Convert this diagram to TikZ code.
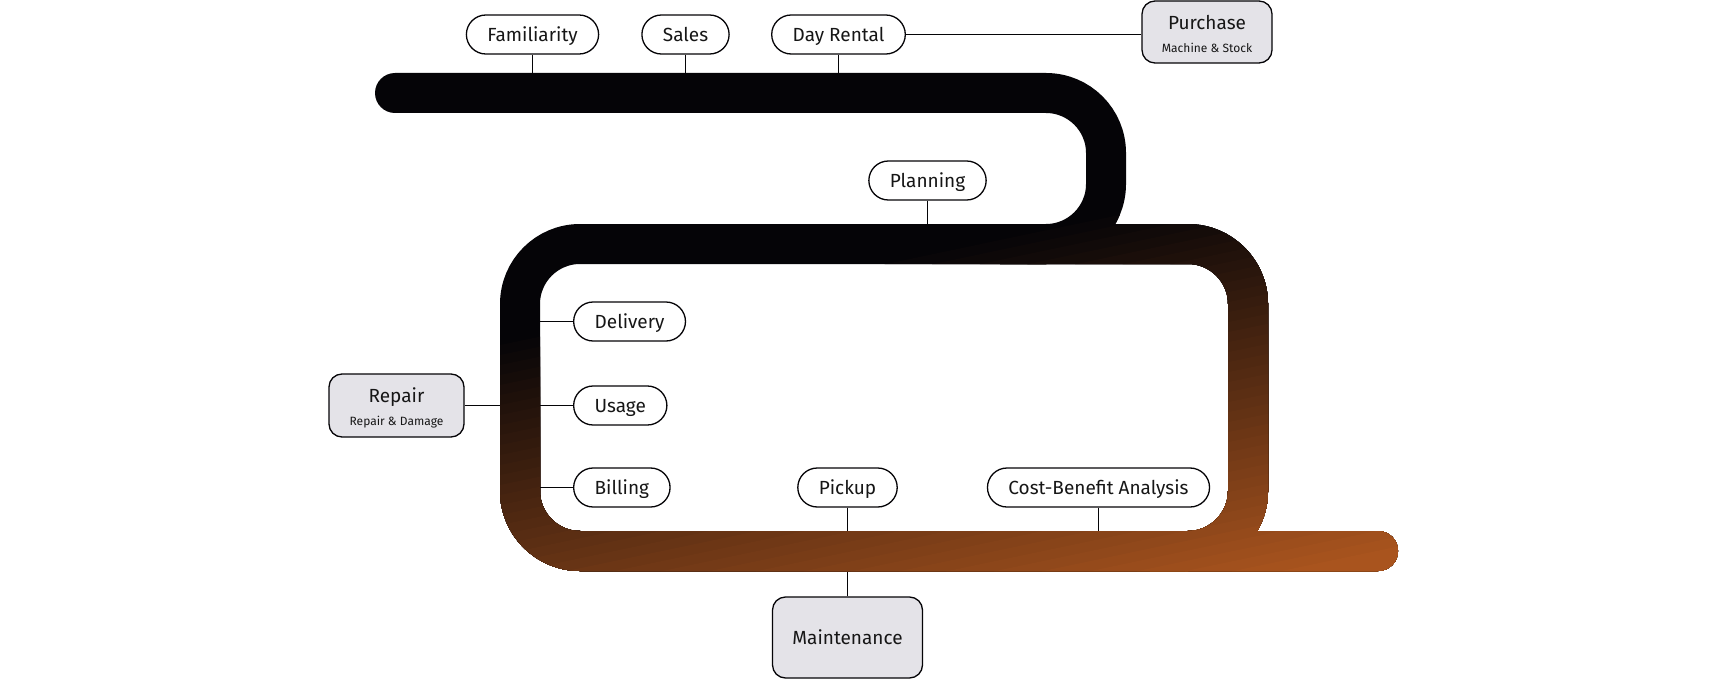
\documentclass[tikz,border=0pt]{standalone}
\usepackage{fontspec}
\setmainfont{Fira Sans}
\usetikzlibrary{positioning}
\definecolor{Ink}{HTML}{050407}
\definecolor{Rust}{HTML}{A9541E}
\definecolor{Card}{HTML}{E4E3E8}
\definecolor{Text}{HTML}{161616}
\newcommand{\sub}[1]{{\fontsize{12}{14}\selectfont #1}}
\newcommand{\pipe}[1]{%
  \draw[pipe,draw=#1] (395,93) -- (1106,93) -- (1106,244) -- (520,244) -- (520,551) -- (1378,551);
  \draw[pipe,draw=#1] (1000,244) -- (1248,244) -- (1248,551) -- (1150,551);
}
\tikzset{
  pipe/.style={line width=40pt,rounded corners=60pt,line cap=round},
  tag/.style={draw=Ink,line width=1.3pt,fill=white,text=Text,rounded corners=19.5pt,
    minimum height=39pt,inner xsep=21pt,inner ysep=0pt,text height=17pt,text depth=3.7pt,
    font=\fontsize{19}{22}\selectfont},
  card/.style={draw=Ink,line width=1.3pt,fill=Card,text=Text,rounded corners=13pt,
    align=center,font=\fontsize{19}{22}\selectfont},
  tick/.style={draw=Ink,line width=1.3pt}
}
\begin{document}
\begin{tikzpicture}[x=1pt,y=-1pt]
  \fill[white] (0,0) rectangle (1728,679);
  \useasboundingbox (0,0) rectangle (1728,679);
  % the pipe, black fading to rust
  \pipe{Ink}
  \foreach \i in {1,...,40}{
    \pgfmathsetmacro\cut{440+10*\i}
    \pgfmathsetmacro\mix{2.5*\i}
    \begin{scope}
      \clip (300,{\cut-63}) -- (1450,{\cut-304.5}) -- (1450,700) -- (300,700) -- cycle;
      \pipe{Rust!\mix!Ink}
    \end{scope}
  }
  \coordinate (topedge) at (0,73);
  \coordinate (midedge) at (0,224);
  \coordinate (leftout) at (500,0);
  \coordinate (leftin) at (540,0);
  \coordinate (botin) at (0,531);
  \coordinate (botout) at (0,572);
  % stations
  \node[tag] (fam) at (532.5,34.5) {Familiarity};
  \node[tag] (sales) at (685.5,34.5) {Sales};
  \node[tag] (day) at (838.5,34.5) {Day Rental};
  \node[card,minimum width=130pt,minimum height=62pt] (buy) at (1207,32) {\rule{0pt}{19pt}Purchase\\[1pt]\sub{Machine \& Stock}};
  \node[tag] (plan) at (927.5,180.5) {Planning};
  \node[tag,anchor=west] (deliv) at (573,321.5) {Delivery};
  \node[tag,anchor=west] (usage) at (573,405.5) {Usage};
  \node[tag,anchor=west] (bill) at (573,487.5) {Billing};
  \node[tag] (pick) at (847.5,487.5) {Pickup};
  \node[tag] (cba) at (1098.5,487.5) {Cost-Benefit Analysis};
  \node[card,minimum width=135pt,minimum height=63pt] (repair) at (396.5,405.5) {\rule{0pt}{19pt}Repair\\[1pt]\sub{Repair \& Damage}};
  \node[card,minimum width=150pt,minimum height=81pt] (maint) at (847.5,637.5) {Maintenance};
  % links to the pipe
  \foreach \n in {fam,sales,day}{\draw[tick] (\n) -- (\n |- topedge);}
  \draw[tick] (plan) -- (plan |- midedge);
  \foreach \n in {deliv,usage,bill}{\draw[tick] (\n) -- (\n -| leftin);}
  \draw[tick] (repair) -- (repair -| leftout);
  \foreach \n in {pick,cba}{\draw[tick] (\n) -- (\n |- botin);}
  \draw[tick] (maint) -- (maint |- botout);
  \draw[tick] (day.east) -- (day.east -| buy.west);
\end{tikzpicture}
\end{document}
